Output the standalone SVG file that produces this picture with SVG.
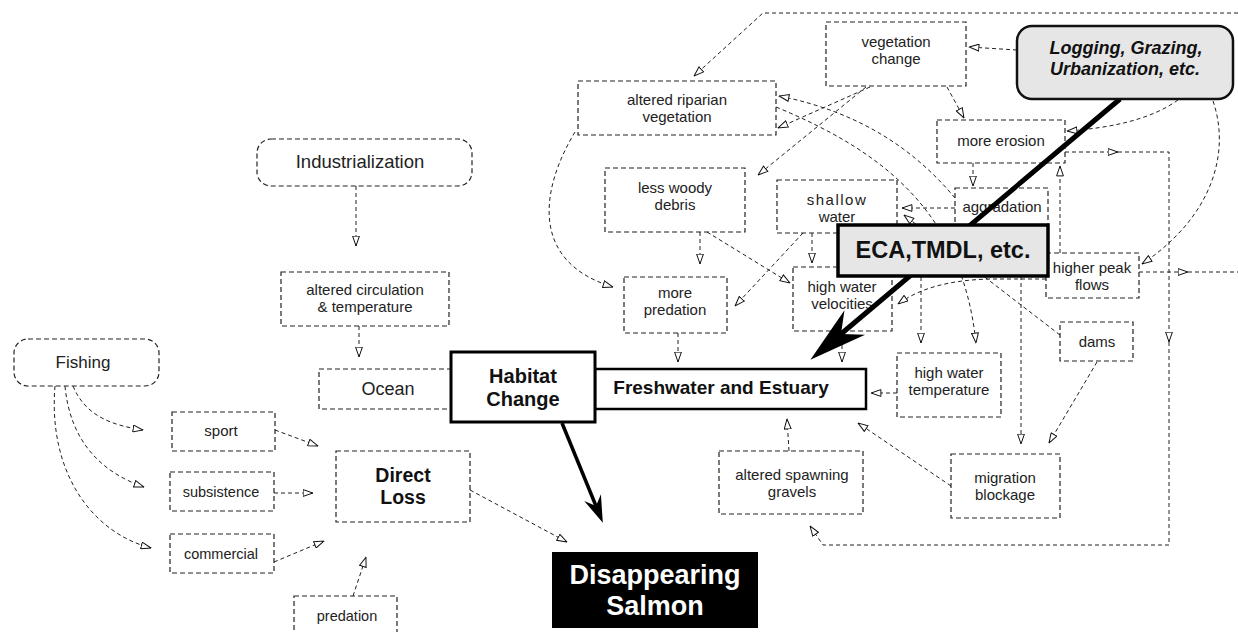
<svg xmlns="http://www.w3.org/2000/svg" width="1238" height="632" viewBox="0 0 1238 632">
<style>
.bx{fill:none;stroke:#222;stroke-width:1.2;stroke-dasharray:5 3}
.c{fill:none;stroke:#222;stroke-width:1;stroke-dasharray:4 3}
.t{font-family:"Liberation Sans",Arial,sans-serif;font-size:15px;fill:#222;text-anchor:middle}
.s{font-size:14.5px}
.b{font-family:"Liberation Sans",Arial,sans-serif;font-weight:bold;fill:#111;text-anchor:middle}
.thick{fill:none;stroke:#000}
</style>
<defs>
<marker id="oa" viewBox="0 0 11 8" refX="10.5" refY="4" markerWidth="11" markerHeight="8" markerUnits="userSpaceOnUse" orient="auto">
<path d="M0.6,0.6 L10.4,4 L0.6,7.4 Z" fill="#fff" stroke="#111" stroke-width="1"/>
</marker>
<marker id="big" viewBox="-1 -19 61 38" refX="18" refY="0" markerWidth="61" markerHeight="38" markerUnits="userSpaceOnUse" orient="auto">
<path d="M0,-16 L58,0 L0,16 L18,0 Z" fill="#000"/>
</marker>
<marker id="mid" viewBox="-1 -10 30 20" refX="9" refY="0" markerWidth="30" markerHeight="20" markerUnits="userSpaceOnUse" orient="auto">
<path d="M0,-9 L27,0 L0,9 L9,0 Z" fill="#000"/>
</marker>
</defs>
<rect width="1238" height="632" fill="#fff"/>

<g id="nodes-dashed">
<g id="n-vegchange"><rect class="bx" x="826" y="22" width="140" height="64"/><text class="t" x="896" y="47">vegetation</text><text class="t" x="896" y="64">change</text></g>
<g id="n-riparian"><rect class="bx" x="578" y="81" width="198" height="54"/><text class="t" x="677" y="105">altered riparian</text><text class="t" x="677" y="122">vegetation</text></g>
<g id="n-woody"><rect class="bx" x="605" y="168" width="140" height="64"/><text class="t" x="675" y="193">less woody</text><text class="t" x="675" y="210">debris</text></g>
<g id="n-shallow"><rect class="bx" x="777" y="180" width="120" height="53"/><text class="t" x="837" y="205" letter-spacing="1.5">shallow</text><text class="t" x="837" y="222">water</text></g>
<g id="n-predation2"><rect class="bx" x="624" y="277" width="103" height="56"/><text class="t" x="675" y="298">more</text><text class="t" x="675" y="315">predation</text></g>
<g id="n-velocities"><rect class="bx" x="793" y="267" width="99" height="64"/><text class="t" x="842" y="292">high water</text><text class="t" x="842" y="309">velocities</text></g>
<g id="n-erosion"><rect class="bx" x="937" y="120" width="128" height="43"/><text class="t" x="1001" y="146">more erosion</text></g>
<g id="n-aggradation"><rect class="bx" x="955" y="188" width="93" height="44"/><text class="t" x="1002" y="212">aggradation</text></g>
<g id="n-peakflows"><rect class="bx" x="1046" y="253" width="93" height="45"/><text class="t" x="1092" y="273">higher peak</text><text class="t" x="1092" y="290">flows</text></g>
<g id="n-dams"><rect class="bx" x="1060" y="322" width="73" height="39"/><text class="t" x="1097" y="347">dams</text></g>
<g id="n-temperature"><rect class="bx" x="897" y="353" width="104" height="64"/><text class="t" x="949" y="378">high water</text><text class="t" x="949" y="395">temperature</text></g>
<g id="n-migration"><rect class="bx" x="951" y="454" width="109" height="64"/><text class="t" x="1005" y="483">migration</text><text class="t" x="1005" y="500">blockage</text></g>
<g id="n-gravels"><rect class="bx" x="719" y="451" width="144" height="63"/><text class="t" x="792" y="480">altered spawning</text><text class="t" x="792" y="497">gravels</text></g>
<g id="n-ocean"><rect class="bx" x="319" y="369" width="140" height="40"/><text class="t" x="388" y="395" style="font-size:18px">Ocean</text></g>
<g id="n-circulation"><rect class="bx" x="281" y="272" width="168" height="54"/><text class="t" x="365" y="295">altered circulation</text><text class="t" x="365" y="312">&amp; temperature</text></g>
<g id="n-industrialization"><rect class="bx" x="257" y="139" width="215" height="47" rx="14"/><text class="t" x="360" y="168" style="font-size:18.5px">Industrialization</text></g>
<g id="n-fishing"><rect class="bx" x="14" y="339" width="145" height="47" rx="14"/><text class="t" x="83" y="368" style="font-size:17px">Fishing</text></g>
<g id="n-sport"><rect class="bx" x="172" y="412" width="103" height="39"/><text class="t" x="221" y="436">sport</text></g>
<g id="n-subsistence"><rect class="bx" x="170" y="472" width="104" height="39"/><text class="t s" x="221" y="497">subsistence</text></g>
<g id="n-commercial"><rect class="bx" x="170" y="534" width="104" height="39"/><text class="t s" x="221" y="559">commercial</text></g>
<g id="n-directloss"><rect class="bx" x="336" y="451" width="134" height="71"/><text class="b" x="403" y="482" style="font-size:19.5px">Direct</text><text class="b" x="403" y="504" style="font-size:19.5px">Loss</text></g>
<g id="n-predation"><rect class="bx" x="294" y="596" width="103" height="50"/><text class="t s" x="347" y="621">predation</text></g>
</g>

<g id="connectors">
<path class="c" d="M1238,13 L763,13 L694,76" marker-end="url(#oa)"/>
<path class="c" d="M1017,50 L969,47" marker-end="url(#oa)"/>
<path class="c" d="M947,87 L964,118" marker-end="url(#oa)"/>
<path class="c" d="M1178,100 C1150,120 1110,128 1067,131" marker-end="url(#oa)"/>
<path class="c" d="M1213,101 C1230,150 1215,215 1142,264" marker-end="url(#oa)"/>
<path class="c" d="M973,163 L973,186" marker-end="url(#oa)"/>
<path class="c" d="M1065,152 L1118,152" marker-end="url(#oa)"/>
<path class="c" d="M1118,152 L1169,152 L1169,342" marker-end="url(#oa)"/>
<path class="c" d="M1169,342 L1169,545 L823,545 L810,526" marker-end="url(#oa)"/>
<path class="c" d="M1060,253 L1060,166" marker-end="url(#oa)"/>
<path class="c" d="M1139,272 L1188,272" marker-end="url(#oa)"/>
<path class="c" d="M1188,272 L1238,272"/>
<path class="c" d="M1046,279 L990,279 C950,280 920,288 898,304" marker-end="url(#oa)"/>
<path class="c" d="M955,208 L902,208" marker-end="url(#oa)"/>
<path class="c" d="M1060,335 L904,215" marker-end="url(#oa)"/>
<path class="c" d="M955,198 C915,150 860,112 779,96" marker-end="url(#oa)"/>
<path class="c" d="M776,107 C880,150 962,210 976,343" marker-end="url(#oa)"/>
<path class="c" d="M921,228 L921,343" marker-end="url(#oa)"/>
<path class="c" d="M1021,262 L1021,444" marker-end="url(#oa)"/>
<path class="c" d="M1097,362 L1049,443" marker-end="url(#oa)"/>
<path class="c" d="M951,486 L858,423" marker-end="url(#oa)"/>
<path class="c" d="M897,393 L871,393" marker-end="url(#oa)"/>
<path class="c" d="M789,451 L787,419" marker-end="url(#oa)"/>
<path class="c" d="M678,333 L678,362" marker-end="url(#oa)"/>
<path class="c" d="M842,331 L842,362" marker-end="url(#oa)"/>
<path class="c" d="M700,232 L700,264" marker-end="url(#oa)"/>
<path class="c" d="M707,232 L790,283" marker-end="url(#oa)"/>
<path class="c" d="M812,233 L812,263" marker-end="url(#oa)"/>
<path class="c" d="M803,233 L735,306" marker-end="url(#oa)"/>
<path class="c" d="M575,132 C540,190 530,262 613,287" marker-end="url(#oa)"/>
<path class="c" d="M870,87 L778,128" marker-end="url(#oa)"/>
<path class="c" d="M866,87 L758,175" marker-end="url(#oa)"/>
<path class="c" d="M356,186 L356,246" marker-end="url(#oa)"/>
<path class="c" d="M359,326 L359,357" marker-end="url(#oa)"/>
<path class="c" d="M73,386 C85,415 110,425 143,430" marker-end="url(#oa)"/>
<path class="c" d="M65,386 C70,440 100,472 144,487" marker-end="url(#oa)"/>
<path class="c" d="M55,386 C48,470 90,532 151,548" marker-end="url(#oa)"/>
<path class="c" d="M275,430 L318,446" marker-end="url(#oa)"/>
<path class="c" d="M274,493 L313,493" marker-end="url(#oa)"/>
<path class="c" d="M274,562 L324,541" marker-end="url(#oa)"/>
<path class="c" d="M353,596 L366,557" marker-end="url(#oa)"/>
<path class="c" d="M470,490 L567,542" marker-end="url(#oa)"/>
<path class="thick" stroke-width="3.5" d="M562,423 L596,506" marker-end="url(#mid)"/>
<path class="thick" stroke-width="5" d="M1120,99 L841,334" marker-end="url(#big)"/>
</g>

<g id="n-logging"><rect x="1017" y="26" width="216" height="73" rx="15" fill="#e6e6e6" stroke="#111" stroke-width="2.5"/><text class="b" x="1126" y="54" style="font-size:18px;font-style:italic">Logging, Grazing,</text><text class="b" x="1125" y="75" style="font-size:18px;font-style:italic">Urbanization, etc.</text></g>
<g id="n-eca"><rect x="838" y="225" width="210" height="51" fill="#e6e6e6" stroke="#000" stroke-width="3.5"/><text class="b" x="943" y="258" style="font-size:23.5px">ECA,TMDL, etc.</text></g>
<g id="n-freshwater"><rect x="595" y="369" width="271" height="40" fill="#fff" stroke="#000" stroke-width="2.5"/><text class="b" x="721" y="394" style="font-size:19px">Freshwater and Estuary</text></g>
<g id="n-habitat"><rect x="451" y="352" width="144" height="70" fill="#fff" stroke="#000" stroke-width="3"/><text class="b" x="523" y="383" style="font-size:20px">Habitat</text><text class="b" x="523" y="406" style="font-size:20px">Change</text></g>
<g id="n-salmon"><rect x="552" y="552" width="206" height="76" fill="#000"/><text class="b" x="655" y="584" style="font-size:27px;fill:#fff">Disappearing</text><text class="b" x="655" y="615" style="font-size:27px;fill:#fff">Salmon</text></g>
</svg>
